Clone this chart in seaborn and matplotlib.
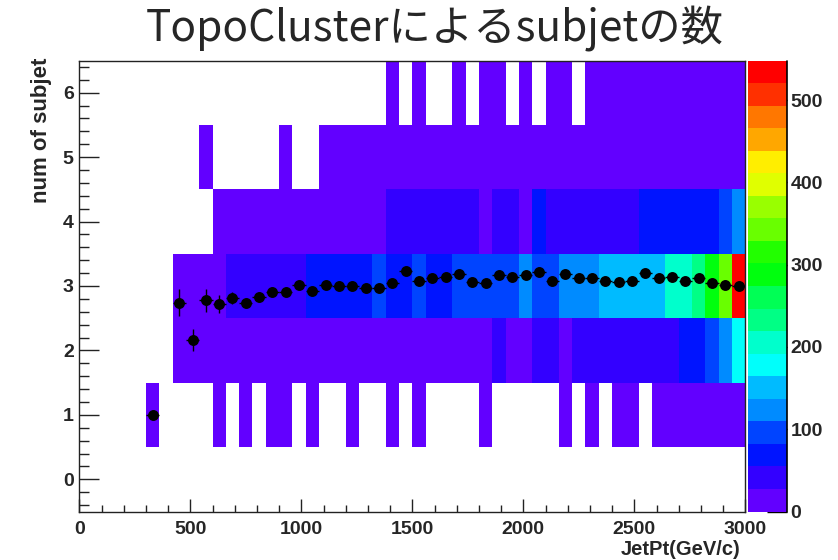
import numpy as np
import pandas as pd
import matplotlib
matplotlib.use("Agg")
import matplotlib.pyplot as plt
from matplotlib.colors import ListedColormap
from matplotlib.ticker import MultipleLocator
import seaborn as sns

# ---------------- data ----------------
bin_width = 60            # GeV
x_range = (0, 3000)
y_range = (-0.5, 6.5)
n_bins = 50

# counts per JetPt bin (index 0..49) for each number of subjets
row1 = {5: 1, 10: 1, 12: 1, 14: 2, 15: 1, 17: 1, 20: 1, 23: 1, 25: 1, 30: 1,
        36: 1, 38: 1, 40: 1, 41: 2, 43: 1, 44: 2, 45: 1, 46: 2, 47: 3, 48: 3, 49: 4}
row2 = {7: 6, 8: 8, 9: 9, 10: 10, 11: 11, 12: 12, 13: 12, 14: 13, 15: 14, 16: 14,
        17: 15, 18: 16, 19: 16, 20: 17, 21: 18, 22: 18, 23: 19, 24: 20, 25: 20,
        26: 21, 27: 22, 28: 23, 29: 24, 30: 25, 31: 30, 32: 25, 33: 26, 34: 31,
        35: 32, 36: 26, 37: 33, 38: 35, 39: 37, 40: 39, 41: 41, 42: 44, 43: 47,
        44: 51, 45: 62, 46: 72, 47: 96, 48: 124, 49: 178}
row3 = {7: 10, 8: 14, 9: 18, 10: 22, 11: 32, 12: 36, 13: 40, 14: 44, 15: 47,
        16: 51, 17: 58, 18: 62, 19: 66, 20: 70, 21: 74, 22: 88, 23: 76, 24: 78,
        25: 90, 26: 74, 27: 79, 28: 92, 29: 96, 30: 98, 31: 101, 32: 104, 33: 118,
        34: 100, 35: 106, 36: 115, 37: 121, 38: 127, 39: 142, 40: 147, 41: 151,
        42: 156, 43: 161, 44: 200, 45: 210, 46: 235, 47: 288, 48: 342, 49: 548}
row4 = {10: 3, 11: 4, 12: 5, 13: 6, 14: 8, 15: 9, 16: 11, 17: 13, 18: 15, 19: 17,
        20: 19, 21: 21, 22: 24, 23: 30, 24: 32, 25: 34, 26: 36, 27: 38, 28: 40,
        29: 42, 30: 26, 31: 43, 32: 45, 33: 26, 34: 58, 35: 44, 36: 46, 37: 48,
        38: 50, 39: 51, 40: 52, 41: 54, 42: 58, 43: 62, 44: 66, 45: 70, 46: 74,
        47: 79, 48: 95, 49: 124}
row5 = {9: 1, 15: 1, 18: 1, 19: 1, 20: 2, 21: 1, 22: 2, 23: 2, 24: 3, 25: 2,
        26: 3, 27: 3, 28: 4, 29: 4, 30: 3, 31: 5, 32: 4, 33: 5, 34: 6, 35: 5,
        36: 6, 37: 7, 38: 7, 39: 8, 40: 8, 41: 9, 42: 10, 43: 10, 44: 11, 45: 12,
        46: 13, 47: 14, 48: 16, 49: 19}
row6 = {23: 1, 25: 1, 28: 1, 30: 1, 31: 1, 33: 1, 35: 1, 36: 1, 38: 1, 39: 1,
        40: 2, 41: 1, 42: 2, 43: 2, 44: 2, 45: 3, 46: 3, 47: 3, 48: 4, 49: 5}
rows = {1: row1, 2: row2, 3: row3, 4: row4, 5: row5, 6: row6}
z_max = 548

# profile (mean number of subjets per JetPt bin)
prof_x = [330, 450, 510, 570, 630, 690, 750, 810, 870, 930, 990, 1050, 1110,
          1170, 1230, 1290, 1350, 1410, 1470, 1530, 1590, 1650, 1710, 1770,
          1830, 1890, 1950, 2010, 2070, 2130, 2190, 2250, 2310, 2370, 2430,
          2490, 2550, 2610, 2670, 2730, 2790, 2850, 2910, 2970]
prof_mean = [1.00, 2.74, 2.16, 2.78, 2.72, 2.81, 2.74, 2.83, 2.91, 2.91, 3.02,
             2.93, 3.02, 3.005, 3.005, 2.97, 2.97, 3.04, 3.23, 3.08, 3.12, 3.145,
             3.19, 3.06, 3.04, 3.175, 3.145, 3.175, 3.21, 3.08, 3.19, 3.12, 3.12,
             3.08, 3.06, 3.08, 3.20, 3.12, 3.14, 3.08, 3.12, 3.04, 3.01, 2.995]
prof_err = [0.0, 0.21, 0.17, 0.18, 0.14, 0.09, 0.08, 0.08, 0.07, 0.07, 0.06,
            0.06, 0.06, 0.05, 0.05, 0.05, 0.05, 0.05, 0.05, 0.05, 0.05, 0.05,
            0.05, 0.05, 0.05, 0.05, 0.05, 0.05, 0.05, 0.05, 0.04, 0.04, 0.04,
            0.04, 0.04, 0.04, 0.04, 0.04, 0.04, 0.04, 0.03, 0.03, 0.03, 0.03]

x_ticks = [0, 500, 1000, 1500, 2000, 2500, 3000]
y_ticks = [0, 1, 2, 3, 4, 5, 6]
z_ticks = [0, 100, 200, 300, 400, 500]

title = "TopoClusterによるsubjetの数"
x_title = "JetPt(GeV/c)"
y_title = "num of subjet"

# ROOT "pretty" palette, 20 contour levels
palette = ["#6200ff", "#3300ff", "#0014ff", "#0044ff", "#008bff", "#00bbff",
           "#00fffb", "#00ffcc", "#00ff85", "#00ff55", "#00ff0e", "#22ff00",
           "#69ff00", "#99ff00", "#e0ff00", "#ffee00", "#ffa700", "#ff7700",
           "#ff3000", "#ff0000"]

# ---------------- build long table ----------------
recs = []
for ny, d in rows.items():
    for b, c in d.items():
        recs.append({"pt": b * bin_width + bin_width / 2, "nsub": ny, "w": c})
df = pd.DataFrame(recs)

# ---------------- plot ----------------
sns.set_style("white")
plt.rcParams["font.family"] = ["Liberation Sans", "DejaVu Sans"]
plt.rcParams["font.weight"] = "bold"

fig = plt.figure(figsize=(8.38, 5.6), dpi=100)
ax = fig.add_axes([79.3 / 838, 1 - 511.5 / 560, 666 / 838, 451 / 560])
cax = fig.add_axes([747.5 / 838, 1 - 511.5 / 560, 39 / 838, 451 / 560])

cmap = ListedColormap(palette)
sns.histplot(data=df, x="pt", y="nsub", weights="w",
             binwidth=(bin_width, 1), binrange=(x_range, y_range),
             cmap=cmap, vmin=0, vmax=z_max, thresh=0,
             cbar=True, cbar_ax=cax, ax=ax)

# profile overlay
ax.errorbar(prof_x, prof_mean, yerr=prof_err, xerr=bin_width / 2, fmt="none",
            ecolor="black", elinewidth=1.0, capsize=0, zorder=3)
sns.scatterplot(x=prof_x, y=prof_mean, color="black", s=62, marker="o",
                edgecolor="black", linewidth=0, ax=ax, zorder=4)

ax.set_xlim(*x_range)
ax.set_ylim(*y_range)
ax.set_xlabel("")
ax.set_ylabel("")
ax.set_xticks(x_ticks)
ax.set_yticks(y_ticks)
ax.xaxis.set_minor_locator(MultipleLocator(100))
ax.yaxis.set_minor_locator(MultipleLocator(0.2))
ax.tick_params(axis="x", which="major", direction="in", length=9.5, width=1,
               color="#222222", bottom=True, top=False, pad=7, labelsize=14)
ax.tick_params(axis="x", which="minor", direction="in", length=4.8, width=1,
               color="#222222", bottom=True, top=False)
ax.tick_params(axis="y", which="major", direction="in", length=14.5, width=1,
               color="#222222", left=True, right=False, pad=4, labelsize=14)
ax.tick_params(axis="y", which="minor", direction="in", length=7.3, width=1,
               color="#222222", left=True, right=False)
for lab in ax.get_xticklabels() + ax.get_yticklabels():
    lab.set_fontweight("bold")
for s in ax.spines.values():
    s.set_visible(True)
    s.set_color("#222222")
    s.set_linewidth(1.0)

# colour bar styling
cbar = ax.collections[0].colorbar
cbar.outline.set_visible(False)
cbar.set_ticks(z_ticks)
cax.yaxis.set_ticks_position("right")
cax.tick_params(axis="y", which="major", direction="in", length=14.5, width=1,
                color="black", pad=3, labelsize=14)
cax.minorticks_off()
for lab in cax.get_yticklabels():
    lab.set_fontweight("bold")
cax.plot([1, 1], [0, 1], transform=cax.transAxes, color="black", lw=1.2,
         clip_on=False)

# texts
fig.text(0.519, 1 - 28 / 560, title, ha="center", va="center", fontsize=30.5,
         fontweight="normal", family=["Noto Sans CJK JP", "DejaVu Sans"])
fig.text(740 / 838, 1 - 549.5 / 560, x_title, ha="right", va="center",
         fontsize=14.5, fontweight="bold")
fig.text(41 / 838, 1 - 58 / 560, y_title, ha="center", va="top", rotation=90,
         fontsize=16, fontweight="bold")

fig.savefig("out.png", dpi=100)
